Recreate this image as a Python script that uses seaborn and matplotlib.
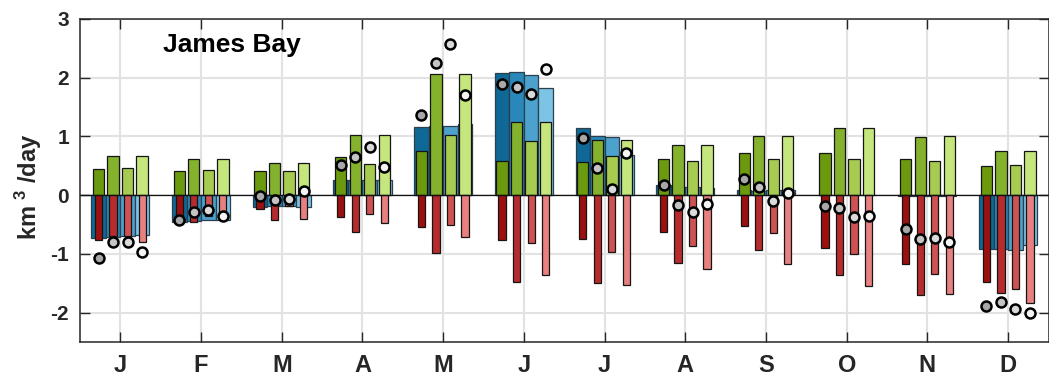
import numpy as np
import pandas as pd
import matplotlib
matplotlib.use("Agg")
import matplotlib.pyplot as plt
import seaborn as sns

# ---- data: 12 months x 4 runs (km^3/day) ----
months = ["Jan", "Feb", "Mar", "Apr", "May", "Jun",
          "Jul", "Aug", "Sep", "Oct", "Nov", "Dec"]
month_ticks = ["J", "F", "M", "A", "M", "J", "J", "A", "S", "O", "N", "D"]
runs = ["run1", "run2", "run3", "run4"]

runoff = [
    [-0.73, -0.71, -0.70, -0.68],
    [-0.45, -0.44, -0.43, -0.43],
    [-0.20, -0.19, -0.18, -0.20],
    [0.26, 0.25, 0.25, 0.26],
    [1.16, 1.17, 1.18, 1.21],
    [2.08, 2.09, 2.04, 1.83],
    [1.14, 1.00, 0.99, 0.69],
    [0.18, 0.14, 0.14, 0.12],
    [0.08, 0.07, 0.08, 0.08],
    [0.01, 0.01, 0.01, 0.01],
    [-0.02, -0.02, -0.02, -0.02],
    [-0.91, -0.91, -0.93, -0.85],
]

precip = [
    [0.44, 0.67, 0.46, 0.67],
    [0.42, 0.61, 0.43, 0.62],
    [0.41, 0.54, 0.41, 0.54],
    [0.645, 1.03, 0.53, 1.03],
    [0.75, 2.07, 1.02, 2.07],
    [0.59, 1.24, 0.93, 1.24],
    [0.57, 0.94, 0.67, 0.94],
    [0.62, 0.86, 0.58, 0.86],
    [0.72, 1.00, 0.61, 1.01],
    [0.71, 1.15, 0.62, 1.15],
    [0.62, 0.99, 0.58, 1.00],
    [0.50, 0.75, 0.52, 0.75],
]

evap = [
    [-0.76, -0.70, -0.69, -0.79],
    [-0.40, -0.46, -0.36, -0.35],
    [-0.24, -0.43, -0.18, -0.40],
    [-0.38, -0.63, -0.32, -0.48],
    [-0.54, -0.99, -0.50, -0.71],
    [-0.77, -1.48, -0.82, -1.36],
    [-0.75, -1.49, -0.96, -1.53],
    [-0.63, -1.15, -0.87, -1.25],
    [-0.52, -0.94, -0.65, -1.17],
    [-0.90, -1.36, -1.00, -1.54],
    [-1.17, -1.70, -1.35, -1.69],
    [-1.48, -1.67, -1.60, -1.83],
]

net = [
    [-1.07, -0.80, -0.80, -0.96],
    [-0.43, -0.29, -0.25, -0.35],
    [-0.02, -0.09, -0.06, 0.065],
    [0.52, 0.645, 0.815, 0.48],
    [1.37, 2.25, 2.57, 1.70],
    [1.90, 1.85, 1.73, 2.15],
    [0.97, 0.46, 0.11, 0.71],
    [0.17, -0.16, -0.28, -0.15],
    [0.28, 0.14, -0.10, 0.03],
    [-0.18, -0.21, -0.37, -0.355],
    [-0.57, -0.75, -0.73, -0.80],
    [-1.88, -1.82, -1.94, -2.01],
]

blues = ["#0f6896", "#2a87b9", "#4ca2cc", "#7cc3e5"]
greens = ["#6b9a0e", "#84b22c", "#a7cb51", "#c5e67c"]
reds = ["#9d1010", "#b62c2c", "#cf5252", "#e88080"]
grays = ["#a8a8a8", "#c4c4c4", "#dadada", "#f4f4f4"]


def long_form(values, name):
    frame = pd.DataFrame(values, index=months, columns=runs)
    frame = frame.stack().reset_index()
    frame.columns = ["month", "run", name]
    return frame


df = long_form(runoff, "runoff")
df = df.merge(long_form(precip, "precip"), on=["month", "run"])
df = df.merge(long_form(evap, "evap"), on=["month", "run"])
df = df.merge(long_form(net, "net"), on=["month", "run"])

sns.set_style("ticks")
plt.rcParams["font.family"] = ["Liberation Sans", "DejaVu Sans"]
plt.rcParams["mathtext.fontset"] = "custom"
plt.rcParams["mathtext.rm"] = "Liberation Sans"
plt.rcParams["mathtext.bf"] = "Liberation Sans:bold"

fig = plt.figure(figsize=(10.49, 3.78), dpi=100)
ax = fig.add_axes([80 / 1049, 36 / 378, 968.5 / 1049, 323 / 378])

common = dict(data=df, x="month", hue="run", order=months, hue_order=runs,
              width=0.72, dodge=True, saturation=1, errorbar=None,
              legend=False, ax=ax)

sns.barplot(y="runoff", palette=blues, gap=0.0,
            edgecolor="#2b3f4c", linewidth=0.9, **common)
sns.barplot(y="precip", palette=greens, gap=0.22,
            edgecolor="#151515", linewidth=0.9, **common)
sns.barplot(y="evap", palette=reds, gap=0.5,
            edgecolor="#151515", linewidth=0.9, **common)

ax.axhline(0, color="#111111", lw=0.9, zorder=1.5)

sns.pointplot(data=df, x="month", y="net", hue="run", order=months,
              hue_order=runs, palette=grays, dodge=0.54, linestyle="none",
              markers="o", errorbar=None, legend=False, ax=ax,
              markersize=7.2, markeredgewidth=1.8, markeredgecolor="black")

ax.set_xlim(-0.5, 11.5)
ax.set_ylim(-2.5, 3)
ax.set_yticks([-2, -1, 0, 1, 2, 3])
ax.set_yticklabels(["-2", "-1", "0", "1", "2", "3"])
ax.set_xticks(range(12))
ax.set_xticklabels(month_ticks)
ax.set_xlabel("")

for lab in ax.get_yticklabels():
    lab.set_fontweight("bold")
    lab.set_fontsize(15)
for lab in ax.get_xticklabels():
    lab.set_fontweight("bold")
    lab.set_fontsize(17)

ax.tick_params(direction="in", length=7, width=1.0, color="#262626",
               top=True, right=True, labelcolor="#262626")
ax.tick_params(axis="x", pad=9)
ax.tick_params(axis="y", pad=8)

ax.grid(True, color="#e2e2e2", lw=1.5)
ax.set_axisbelow(True)
for sp in ax.spines.values():
    sp.set_visible(True)
    sp.set_color("#262626")
    sp.set_linewidth(1.1)

ax.set_ylabel(r"km $^{\mathbf{3}}$ /day", fontsize=17, fontweight="bold",
              color="#262626")
ax.yaxis.set_label_coords(-0.037, 0.48)

ax.text(0.0857, 0.898, "James Bay", transform=ax.transAxes,
        fontsize=19, fontweight="bold", color="black", va="baseline",
        ha="left")

fig.savefig("out.png", dpi=100)
